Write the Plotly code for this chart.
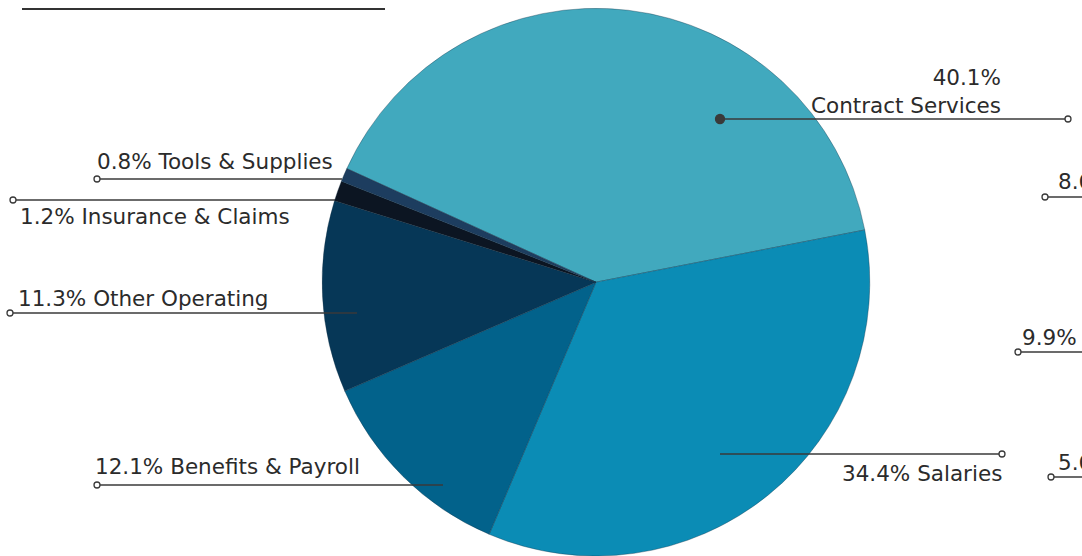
import plotly.graph_objects as go

# ---- data ----
categories = ["Contract Services", "Salaries", "Benefits & Payroll",
              "Other Operating", "Insurance & Claims", "Tools & Supplies"]
percents = [40.1, 34.4, 12.1, 11.3, 1.2, 0.8]
slice_colors = ["#41a9be", "#0b8cb5", "#02628b", "#063757", "#0c1522", "#1d3d5f"]
# partially visible labels from a neighbouring chart (cut off at right edge)
neighbour_labels = ["8.6%", "9.9%", "5.6%"]

W, H = 1082, 556
FONT = "DejaVu Sans"
FS = 21.5
TXT = "#2b2b2b"
LINE = "#3a3a3a"

def px(x):
    return x / W

def py(y):
    return 1 - y / H

fig = go.Figure(go.Pie(
    labels=categories,
    values=percents,
    sort=False,
    direction="clockwise",
    rotation=-65.5,
    marker=dict(colors=slice_colors, line=dict(color="rgba(20,50,70,0.35)", width=1)),
    textinfo="none",
    hoverinfo="label+percent",
    domain=dict(x=[0.2508, 0.8508], y=[0.0, 0.985]),
    showlegend=False,
))

shapes = []
annotations = []

def hline(y, x0, x1, width=1.6):
    shapes.append(dict(type="line", xref="paper", yref="paper",
                       x0=px(x0), x1=px(x1), y0=py(y), y1=py(y),
                       line=dict(color=LINE, width=width), layer="above"))

def dot(x, y, r, filled):
    shapes.append(dict(type="circle", xref="paper", yref="paper",
                       xsizemode="pixel", ysizemode="pixel",
                       xanchor=px(x), yanchor=py(y),
                       x0=-r, x1=r, y0=-r, y1=r,
                       line=dict(color=LINE, width=1.3),
                       fillcolor=LINE if filled else "white", layer="above"))

def text(s, x, y, anchor, align="left"):
    annotations.append(dict(text=s, xref="paper", yref="paper", x=px(x), y=py(y),
                            xanchor=anchor, yanchor="middle", showarrow=False, align=align,
                            font=dict(family=FONT, size=FS, color=TXT)))

lab = [f"{p}% {c}" for p, c in zip(percents, categories)]

# Contract Services (two-line, right aligned)
hline(119, 720, 1065)
dot(720, 119, 4.5, True)
dot(1068, 119, 3, False)
text(f"{percents[0]}%<br>{categories[0]}", 1003, 92, "right", align="right")

# Salaries
hline(454, 720, 999)
dot(1002, 454, 3, False)
text(lab[1], 1004, 473, "right")

# Benefits & Payroll
hline(485, 100, 443)
dot(97, 485, 3, False)
text(lab[2], 93, 466, "left")

# Other Operating
hline(313, 13, 357)
dot(10, 313, 3, False)
text(lab[3], 16, 298, "left")

# Insurance & Claims
hline(200, 16, 335)
dot(13, 200, 3, False)
text(lab[4], 18, 216, "left")

# Tools & Supplies
hline(179, 100, 342)
dot(97, 179, 3, False)
text(lab[5], 95, 162, "left")

# neighbour chart labels (clipped at right edge, as in the reference)
for s, (xl, yt, yl, xc) in zip(neighbour_labels,
                               [(1056, 182, 197, 1045), (1020, 337, 352, 1018), (1056, 462, 477, 1051)]):
    hline(yl, xc + 3, 1090)
    dot(xc, yl, 3, False)
    text(s, xl, yt, "left")

# top-left rule
shapes.append(dict(type="line", xref="paper", yref="paper",
                   x0=px(22), x1=px(385), y0=py(9), y1=py(9),
                   line=dict(color="#333333", width=2.2)))

fig.update_layout(
    width=W, height=H,
    margin=dict(l=0, r=0, t=0, b=0),
    paper_bgcolor="white", plot_bgcolor="white",
    shapes=shapes, annotations=annotations,
)

fig.write_html("out.html", config={"displayModeBar": False},
               post_script="document.body.style.margin='0';document.body.style.overflow='hidden';")
